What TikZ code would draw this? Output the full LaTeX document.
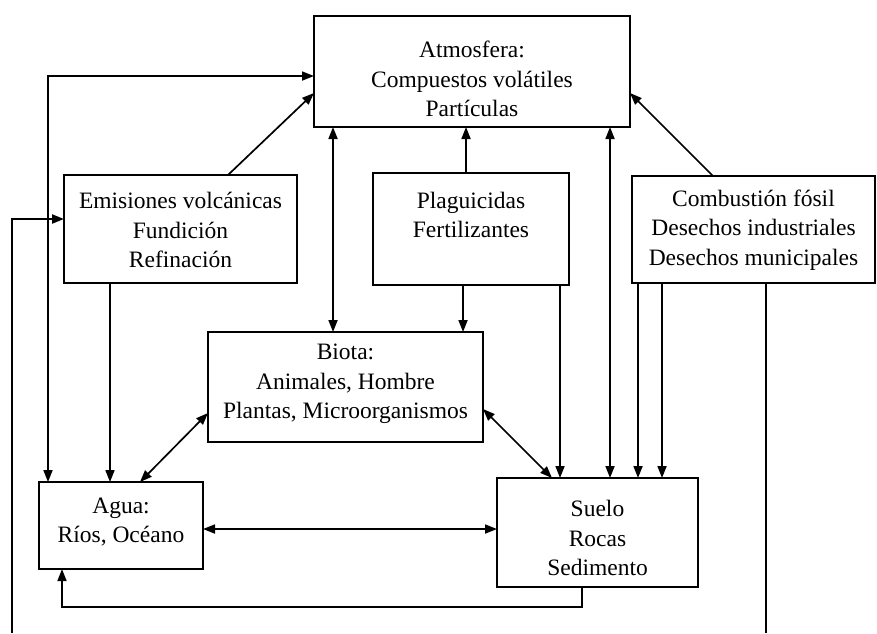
\documentclass[tikz,border=0pt]{standalone}
\usepackage{fontspec}
\setmainfont{Liberation Serif}
\usetikzlibrary{arrows.meta}
\begin{document}
\begin{tikzpicture}[x=1pt,y=-1pt,
  box/.style={draw,line width=2pt,inner sep=0pt,outer sep=0pt},
  txt/.style={align=center,inner sep=0pt,font=\fontsize{23.5}{29.5}\selectfont},
  conn/.style={line width=1.7pt,-{Triangle[length=12pt,width=9pt]}},
  conn2/.style={line width=1.7pt,{Triangle[length=12pt,width=9pt]}-{Triangle[length=12pt,width=9pt]}},
  plain/.style={line width=2.2pt}]
\useasboundingbox (0,0) rectangle (877,633);
% boxes
\node[box,minimum width=316pt,minimum height=111pt] (atm) at (472,71.5) {};
\node[box,minimum width=233pt,minimum height=108pt] (emi) at (180.5,229) {};
\node[box,minimum width=196pt,minimum height=112pt] (pla) at (471,229) {};
\node[box,minimum width=243pt,minimum height=107pt] (com) at (753.5,229.5) {};
\node[box,minimum width=275pt,minimum height=110pt] (bio) at (345.5,387) {};
\node[box,minimum width=164pt,minimum height=87pt] (agu) at (121,525.5) {};
\node[box,minimum width=201pt,minimum height=109pt] (sue) at (597.5,532.5) {};
% texts
\node[txt] (atmT) at (472,79) {Atmosfera:\\Compuestos volátiles\\Partículas};
\node[txt] (emiT) at (180.5,230) {Emisiones volcánicas\\Fundición\\Refinación};
\node[txt] (plaT) at (471,215) {Plaguicidas\\Fertilizantes};
\node[txt] (comT) at (753.5,230) {Combustión fósil\\Desechos industriales\\Desechos municipales};
\node[txt] (bioT) at (345.5,384) {Biota:\\Animales, Hombre\\Plantas, Microorganismos};
\node[txt] (aguT) at (121,522) {Agua:\\Ríos, Océano};
\node[txt] (sueT) at (597.5,538) {Suelo\\Rocas\\Sedimento};
% helper coordinates
\coordinate (lb) at (12,633);
\coordinate (rb) at (766,633);
\coordinate (lowy) at (0,607);
\coordinate (a48) at ([xshift=9pt]agu.north west);
\coordinate (t76) at ([yshift=-4.5pt]atm.west);
\coordinate (e219) at ([yshift=10pt]emi.west);
\coordinate (e228) at ([xshift=164pt]emi.north west);
\coordinate (at93l) at ([yshift=-21.5pt]atm.west);
\coordinate (at93r) at ([yshift=-21.5pt]atm.east);
\coordinate (e110) at ([xshift=46pt]emi.south west);
\coordinate (a110) at ([xshift=71pt]agu.north west);
\coordinate (x333) at ([xshift=19pt]atm.south west);
\coordinate (p466) at ([xshift=93pt]pla.north west);
\coordinate (p463) at ([xshift=90pt]pla.south west);
\coordinate (p560) at ([xshift=187pt]pla.south west);
\coordinate (x610) at ([xshift=296pt]atm.south west);
\coordinate (c713) at ([xshift=81pt]com.north west);
\coordinate (c638) at ([xshift=6pt]com.south west);
\coordinate (c662) at ([xshift=30pt]com.south west);
\coordinate (c766) at ([xshift=134pt]com.south west);
\coordinate (a140) at ([xshift=101pt]agu.north west);
\coordinate (b413) at ([yshift=-26pt]bio.west);
\coordinate (b409) at ([yshift=-22pt]bio.east);
\coordinate (s552) at ([xshift=55pt]sue.north west);
\coordinate (a529) at ([yshift=-3.5pt]agu.east);
\coordinate (s582) at ([xshift=85pt]sue.south west);
\coordinate (a62) at ([xshift=23pt]agu.south west);
% connectors
\draw[conn2] (a48) |- (t76);
\draw[conn,line width=2.2pt] (lb) |- (e219);
\draw[conn] (e228) -- (at93l);
\draw[conn] (e110) -- (a110);
\draw[conn2] (x333) -- (x333 |- bio.north);
\draw[conn] (p466) -- (p466 |- atm.south);
\draw[conn] (p463) -- (p463 |- bio.north);
\draw[conn] (p560) -- (p560 |- sue.north);
\draw[conn2] (x610) -- (x610 |- sue.north);
\draw[conn] (c713) -- (at93r);
\draw[conn] (c638) -- (c638 |- sue.north);
\draw[conn] (c662) -- (c662 |- sue.north);
\draw[plain] (c766) -- (rb);
\draw[conn2] (a140) -- (b413);
\draw[conn2] (b409) -- (s552);
\draw[conn2] (a529) -- (a529 -| sue.west);
\draw[conn] (s582) -- (s582 |- lowy) -| (a62);
\end{tikzpicture}
\end{document}
